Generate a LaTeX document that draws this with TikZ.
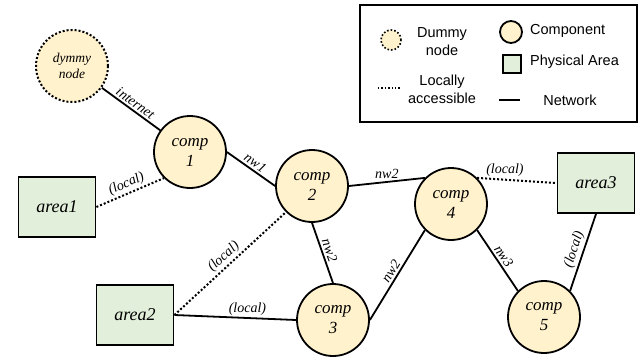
\documentclass[tikz,border=0pt]{standalone}
\usepackage{fontspec}
\setmainfont{Liberation Serif}
\newfontfamily\legendfont{Liberation Sans}
\definecolor{compfill}{HTML}{FFF2CC}
\definecolor{areafill}{HTML}{E2EFDA}
\begin{document}
\begin{tikzpicture}[x=1pt,y=-1pt,
  compnode/.style={circle,draw,line width=1.8pt,fill=compfill,minimum size=72pt,inner sep=0pt,align=center,font=\fontsize{17}{20}\selectfont\itshape},
  dummynode/.style={circle,draw,dotted,line width=2pt,fill=compfill,minimum size=72pt,inner sep=0pt,align=center,font=\fontsize{13.5}{16}\selectfont\itshape},
  areanode/.style={rectangle,draw,line width=1.8pt,fill=areafill,minimum width=77pt,minimum height=60pt,inner sep=0pt,font=\fontsize{18}{20}\selectfont\itshape},
  net/.style={line width=1.8pt},
  loc/.style={dotted,line width=2pt},
  elabel/.style={font=\fontsize{14}{16}\selectfont\itshape,inner sep=2pt},
  legtext/.style={font=\legendfont\fontsize{14.5}{18}\selectfont,align=center,inner sep=0pt},
]
\useasboundingbox (0,0) rectangle (644,356);

% legend
\node[draw,line width=1.8pt,minimum width=277pt,minimum height=117pt,inner sep=0pt] (legend) at (498.5,63.5) {};
\node[circle,draw,dotted,line width=1.6pt,fill=compfill,minimum size=20pt,inner sep=0pt] (ldummy) at (391,40) {};
\node[legtext] (tdummy) at (442,42) {Dummy\\node};
\coordinate (lla) at (378,88);
\coordinate (llb) at (400,88);
\draw[loc,line width=1.4pt] (lla) -- (llb);
\node[legtext] (tlocal) at (442,89) {Locally\\accessible};
\node[circle,draw,line width=1.8pt,fill=compfill,minimum size=22pt,inner sep=0pt] (lcomp) at (511,32) {};
\node[legtext,anchor=west] (tcomp) at (530,31) {Component};
\node[rectangle,draw,line width=1.8pt,fill=areafill,minimum size=18pt,inner sep=0pt] (larea) at (512,64) {};
\node[legtext,anchor=west] (tarea) at (530,62) {Physical Area};
\coordinate (lna) at (499,100);
\coordinate (lnb) at (520,100);
\draw[net] (lna) -- (lnb);
\node[legtext] (tnet) at (570,100) {Network};

% nodes
\node[dummynode] (dummy) at (72,66) {dymmy\\node};
\node[compnode] (comp1) at (190,152) {comp\\1};
\node[compnode] (comp2) at (312,186) {comp\\2};
\node[compnode] (comp3) at (333,320) {comp\\3};
\node[compnode] (comp4) at (451,204) {comp\\4};
\node[compnode] (comp5) at (544,317) {comp\\5};
\node[areanode] (area1) at (57,207) {area1};
\node[areanode] (area2) at (135,315) {area2};
\node[areanode] (area3) at (596,183) {area3};

% edges
\draw[net] (dummy) -- node[elabel,sloped,above] {internet} (comp1);
\draw[net] (comp1.east) -- node[elabel,sloped,above] {nw1} (comp2.west);
\draw[loc] (area1.east) -- node[elabel,sloped,above] {(local)} (comp1.south west);
\draw[net] (comp2.east) -- node[elabel,above] {nw2} (comp4.north west);
\draw[net] (comp2.south) -- node[elabel,sloped,above] {nw2} (comp3.north);
\draw[loc] (area2.east) -- node[elabel,sloped,above] {(local)} (comp2.south west);
\draw[net] (area2.east) -- node[elabel,above,pos=0.6] {(local)} (comp3.west);
\draw[net] (comp3.east) -- node[elabel,sloped,above] {nw2} (comp4.south west);
\draw[loc] (comp4.north east) -- node[elabel,above,pos=0.35] {(local)} (area3.west);
\draw[net] (comp4.south east) -- node[elabel,sloped,above] {nw3} (comp5.north west);
\draw[net] (area3.south) -- node[elabel,sloped,above] {(local)} (comp5.north east);
\end{tikzpicture}
\end{document}
